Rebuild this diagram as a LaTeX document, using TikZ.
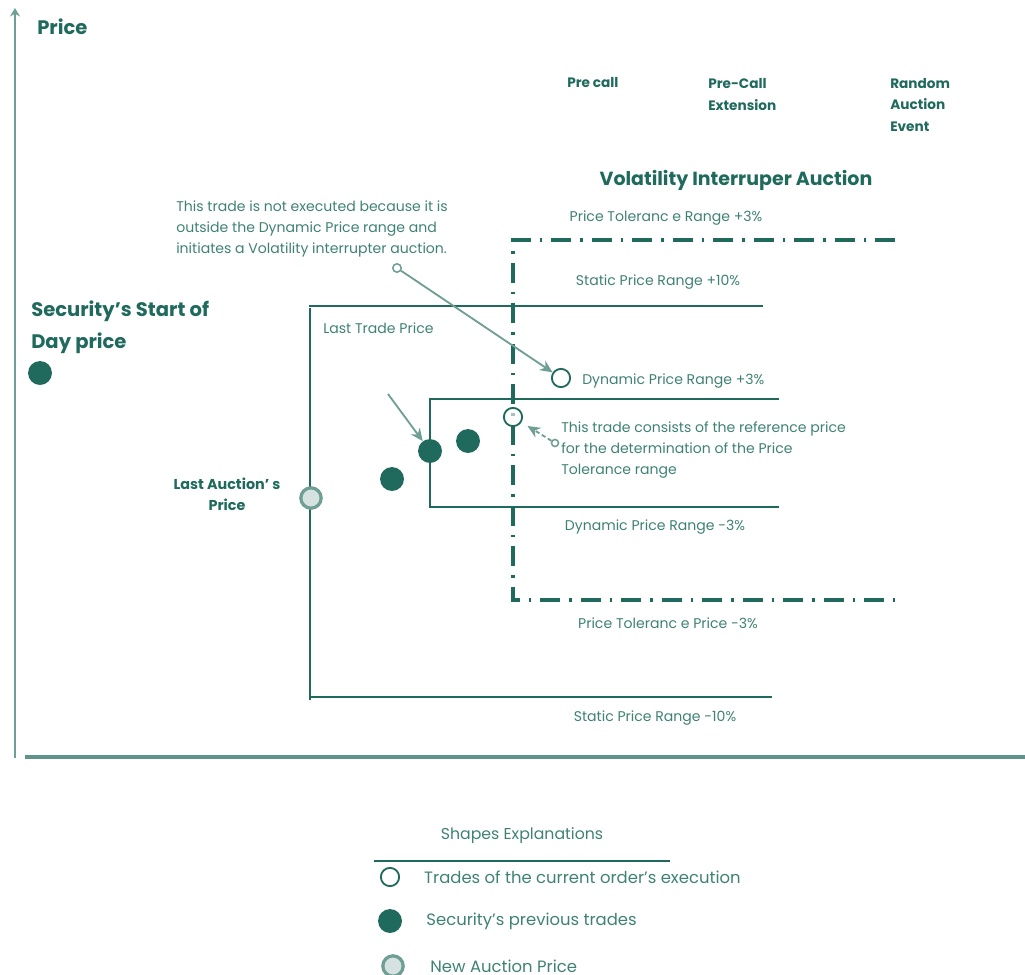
\documentclass[tikz,border=0pt]{standalone}
\usepackage{fontspec}
\setmainfont{Poppins}
\usetikzlibrary{positioning,arrows.meta}
\definecolor{vgreen}{HTML}{1F6A5D}
\definecolor{vtext}{HTML}{3F8274}
\definecolor{vlight}{HTML}{6E9E94}
\definecolor{vfill}{HTML}{D5E2DF}
\tikzset{
  lbl/.style={text=vtext,font=\fontsize{10}{15}\selectfont,inner sep=0pt,align=left},
  lgd/.style={text=vtext,font=\fontsize{11.7}{14}\selectfont,inner sep=0pt,anchor=west},
  hd/.style={text=vgreen,font=\bfseries\fontsize{13.9}{22.7}\selectfont,inner sep=0pt,align=left},
  sm/.style={text=vgreen,font=\bfseries\fontsize{9.7}{15.5}\selectfont,inner sep=0pt,align=left},
  rng/.style={vgreen,line width=1.4pt},
  tol/.style={vgreen,line width=2.8pt,dash pattern=on 14pt off 6.5pt on 1.8pt off 6.5pt},
  opentrade/.style={circle,draw=vgreen,line width=1.3pt,fill=white,minimum size=13pt,inner sep=0pt},
  prevtrade/.style={circle,fill=vgreen,minimum size=17pt,inner sep=0pt},
  auction/.style={circle,draw=vlight,fill=vfill,line width=2.3pt,minimum size=14.5pt,inner sep=0pt},
  notedot/.style={circle,draw=vlight,line width=1.1pt,fill=white,minimum size=6pt,inner sep=0pt},
  note/.style={vlight,line width=1.3pt,-{Stealth[length=9pt,width=8pt]}},
}
\begin{document}
\begin{tikzpicture}[x=0.025cm,y=-0.025cm]
\useasboundingbox (0,0) rectangle (1025,974);
% axes
\coordinate (o) at (15,758);
\coordinate (ytop) at (15,8);
\coordinate (xl) at (25,757);
\coordinate (xr) at (1025,757);
\draw[vlight,line width=1.5pt,-{Stealth[length=6pt,width=7pt]}] (o)--(ytop);
\draw[vlight!80!vgreen,line width=2.2pt] (xl)--(xr);
\node[hd] (price) at (37,27) [anchor=west] {Price};
% phases
\node[sm,anchor=west] (precall) at (567,83) {Pre call};
\node[sm,anchor=west] (precallext) at (708,94.5) {Pre-Call\\Extension};
\node[sm,anchor=west] (rae) at (890,105) {Random\\Auction\\Event};
\node[hd,font=\bfseries\fontsize{13.5}{15}\selectfont] (via) at (736,180) {Volatility Interruper Auction};
% ranges
\coordinate (s1) at (763,306); \coordinate (s2) at (309,306);
\coordinate (s3) at (310,308); \coordinate (s4) at (310,700);
\coordinate (s5) at (310,697); \coordinate (s6) at (772,697);
\draw[rng,line width=1.6pt] (s1)--(s2);
\draw[rng] (s3)--(s4);
\draw[rng,line width=1.6pt] (s5)--(s6);
\coordinate (d1) at (779,399); \coordinate (d2) at (430,399);
\coordinate (d3) at (430,507); \coordinate (d4) at (779,507);
\draw[rng] (d1)--(d2)--(d3)--(d4);
\coordinate (p1) at (895,240); \coordinate (p2) at (513,240);
\coordinate (p3) at (513,600); \coordinate (p4) at (895,600);
\draw[tol] (p1)--(p2)--(p3)--(p4);
\node[lbl] (tolup) at (666,218) {Price Toleranc e Range +3\%};
\node[lbl] (statup) at (658,282) {Static Price Range +10\%};
\node[lbl,anchor=west] (ltp) at (323,328) {Last Trade Price};
\node[lbl,anchor=west] (dynup) at (582,381) {Dynamic Price Range +3\%};
\node[lbl] (dyndn) at (655,527) {Dynamic Price Range -3\%};
\node[lbl] (toldn) at (668,623) {Price Toleranc e Price -3\%};
\node[lbl] (statdn) at (655,718) {Static Price Range -10\%};
% trades
\node[prevtrade] (sod) at (40,373) {};
\node[hd,anchor=west] (sodlbl) at (31,327) {Security’s Start of\\Day price};
\node[auction] (lap) at (311,498) {};
\node[sm,align=center,font=\bfseries\fontsize{10.2}{15}\selectfont] (laplbl) at (227,494) {Last Auction’ s\\Price};
\node[prevtrade] (pt1) at (392,479) {};
\node[prevtrade] (pt2) at (430,451) {};
\node[prevtrade] (pt3) at (468,441) {};
\node[opentrade] (ct1) at (561,378) {};
\node[opentrade,fill=white,fill opacity=0.6] (ct2) at (513,417) {};
% notes
\node[lbl,anchor=west] (note1) at (176,229) {This trade is not executed because it is\\outside the Dynamic Price range and\\initiates a Volatility interrupter auction.};
\node[notedot] (n1) at (397,268) {};
\draw[note] (n1)--(ct1);
\coordinate (a2) at (388,394);
\draw[note] (a2)--(pt2);
\node[lbl,anchor=west] (note2) at (561,450) {This trade consists of the reference price\\for the determination of the Price\\Tolerance range};
\node[notedot,minimum size=5pt] (n2) at (555,443) {};
\draw[note,dash pattern=on 3pt off 2pt,shorten >=5pt] (n2)--(ct2);
% legend
\node[lbl,font=\fontsize{11.2}{12}\selectfont] (lgtitle) at (522,836) {Shapes Explanations};
\coordinate (lgl) at (374,861); \coordinate (lgr) at (670,861);
\draw[vgreen,line width=2pt] (lgl)--(lgr);
\node[opentrade] (lg1) at (390,877) {};
\node[lgd,right=17pt of lg1] (lg1t) {Trades of the current order’s execution};
\node[prevtrade] (lg2) at (390,921) {};
\node[lgd,right=17pt of lg2] (lg2t) {Security’s previous trades};
\node[auction] (lg3) at (393,966) {};
\node[lgd,right=18pt of lg3] (lg3t) {New Auction Price};
\end{tikzpicture}
\end{document}
